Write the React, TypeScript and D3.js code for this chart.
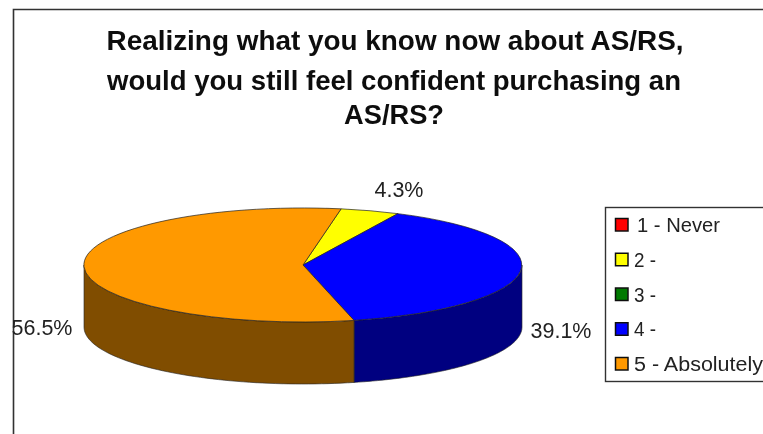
import React from "react";
import * as d3 from "d3";

const categories = ["1 - Never", "2 -", "3 -", "4 -", "5 - Absolutely"];
const counts = [0, 1, 0, 9, 13];
const percentLabels = ["", "4.3%", "", "39.1%", "56.5%"];
const topColors = ["#ff0000", "#ffff00", "#007a00", "#0000ff", "#ff9900"];
const sideColors = ["#800000", "#808000", "#003d00", "#000080", "#804d00"];
const titleLines = [
  "Realizing what you know now about AS/RS,",
  "would you still feel confident purchasing an",
  "AS/RS?",
];

const W = 763, H = 434;
const cx = 303, cy = 265, rx = 219, ry = 57, depth = 62;
const START = (10 * Math.PI) / 180;
const FONT = "'Liberation Sans', Arial, sans-serif";
const labelPos = [null, [399, 197], null, [561, 338], [42, 335]];
const titleX = [395, 394, 394];
const titleY = [50, 90, 124];
const titleWidths = [577, 574, 100];
const legendTextX = [637, 634, 634, 634, 634];
const legendTextWidths = [83, 22, 22, 22, 129];

export default function App() {
  const pie = d3.pie<number>().sort(null).startAngle(START).endAngle(START + 2 * Math.PI);
  const arcs = pie(counts);
  const arcGen = d3.arc<d3.PieArcDatum<number>>().innerRadius(0).outerRadius(1);
  const line = (dy: number) =>
    d3.line<number>()
      .x((a) => cx + rx * Math.sin(a))
      .y((a) => cy + dy - ry * Math.cos(a));

  const walls = arcs.flatMap((d, idx) => {
    if (d.value <= 0) return [];
    const a0 = Math.max(d.startAngle, Math.PI / 2);
    const a1 = Math.min(d.endAngle, (3 * Math.PI) / 2);
    if (a1 <= a0) return [];
    const angles = d3.range(61).map((k) => a0 + ((a1 - a0) * k) / 60);
    const top = line(0)(angles) as string;
    const bottom = line(depth)([...angles].reverse()) as string;
    return [{ idx, path: top + "L" + bottom.slice(1) + "Z" }];
  });

  const legendY = d3.scalePoint<string>().domain(categories).range([225, 364]);

  return (
    <svg
      width={W}
      height={H}
      viewBox={`0 0 ${W} ${H}`}
      style={{ position: "absolute", left: 0, top: 0, background: "#fff" }}
    >
      <defs>
        <filter id="soft" x="-2%" y="-2%" width="104%" height="104%">
          <feGaussianBlur stdDeviation="0.5" />
        </filter>
      </defs>
      <g filter="url(#soft)" fontFamily={FONT}>
        <path d={`M13.5 ${H}V9.5H${W}`} fill="none" stroke="#333" strokeWidth={1.6} />
        {titleLines.map((t, i) => (
          <text
            key={t}
            x={titleX[i]}
            y={titleY[i]}
            textAnchor="middle"
            fontSize={27}
            fontWeight="bold"
            fill="#111"
            textLength={titleWidths[i]}
            lengthAdjust="spacingAndGlyphs"
          >
            {t}
          </text>
        ))}
        {walls.map((w) => (
          <path key={w.idx} d={w.path} fill={sideColors[w.idx]} stroke="#222" strokeWidth={0.6} />
        ))}
        {arcs.map((d, i) =>
          d.value > 0 ? (
            <path
              key={categories[i]}
              d={arcGen(d) as string}
              transform={`translate(${cx},${cy}) scale(${rx},${ry})`}
              fill={topColors[i]}
              stroke="#222"
              strokeWidth={0.7}
              vectorEffect="non-scaling-stroke"
            />
          ) : null
        )}
        {percentLabels.map((t, i) =>
          t ? (
            <text key={i} x={labelPos[i]![0]} y={labelPos[i]![1]} textAnchor="middle" fontSize={21.5} fill="#222">
              {t}
            </text>
          ) : null
        )}
        <rect x={605.5} y={207.5} width={170} height={174} fill="#fff" stroke="#333" strokeWidth={1.4} />
        {categories.map((c, i) => (
          <g key={c}>
            <rect
              x={615.5}
              y={legendY(c)! - 6.5}
              width={12.5}
              height={12.5}
              fill={topColors[i]}
              stroke="#111"
              strokeWidth={1.5}
            />
            <text
              x={legendTextX[i]}
              y={legendY(c)! + 7}
              fontSize={20.5}
              fill="#222"
              textLength={legendTextWidths[i]}
              lengthAdjust="spacingAndGlyphs"
            >
              {c}
            </text>
          </g>
        ))}
      </g>
    </svg>
  );
}
